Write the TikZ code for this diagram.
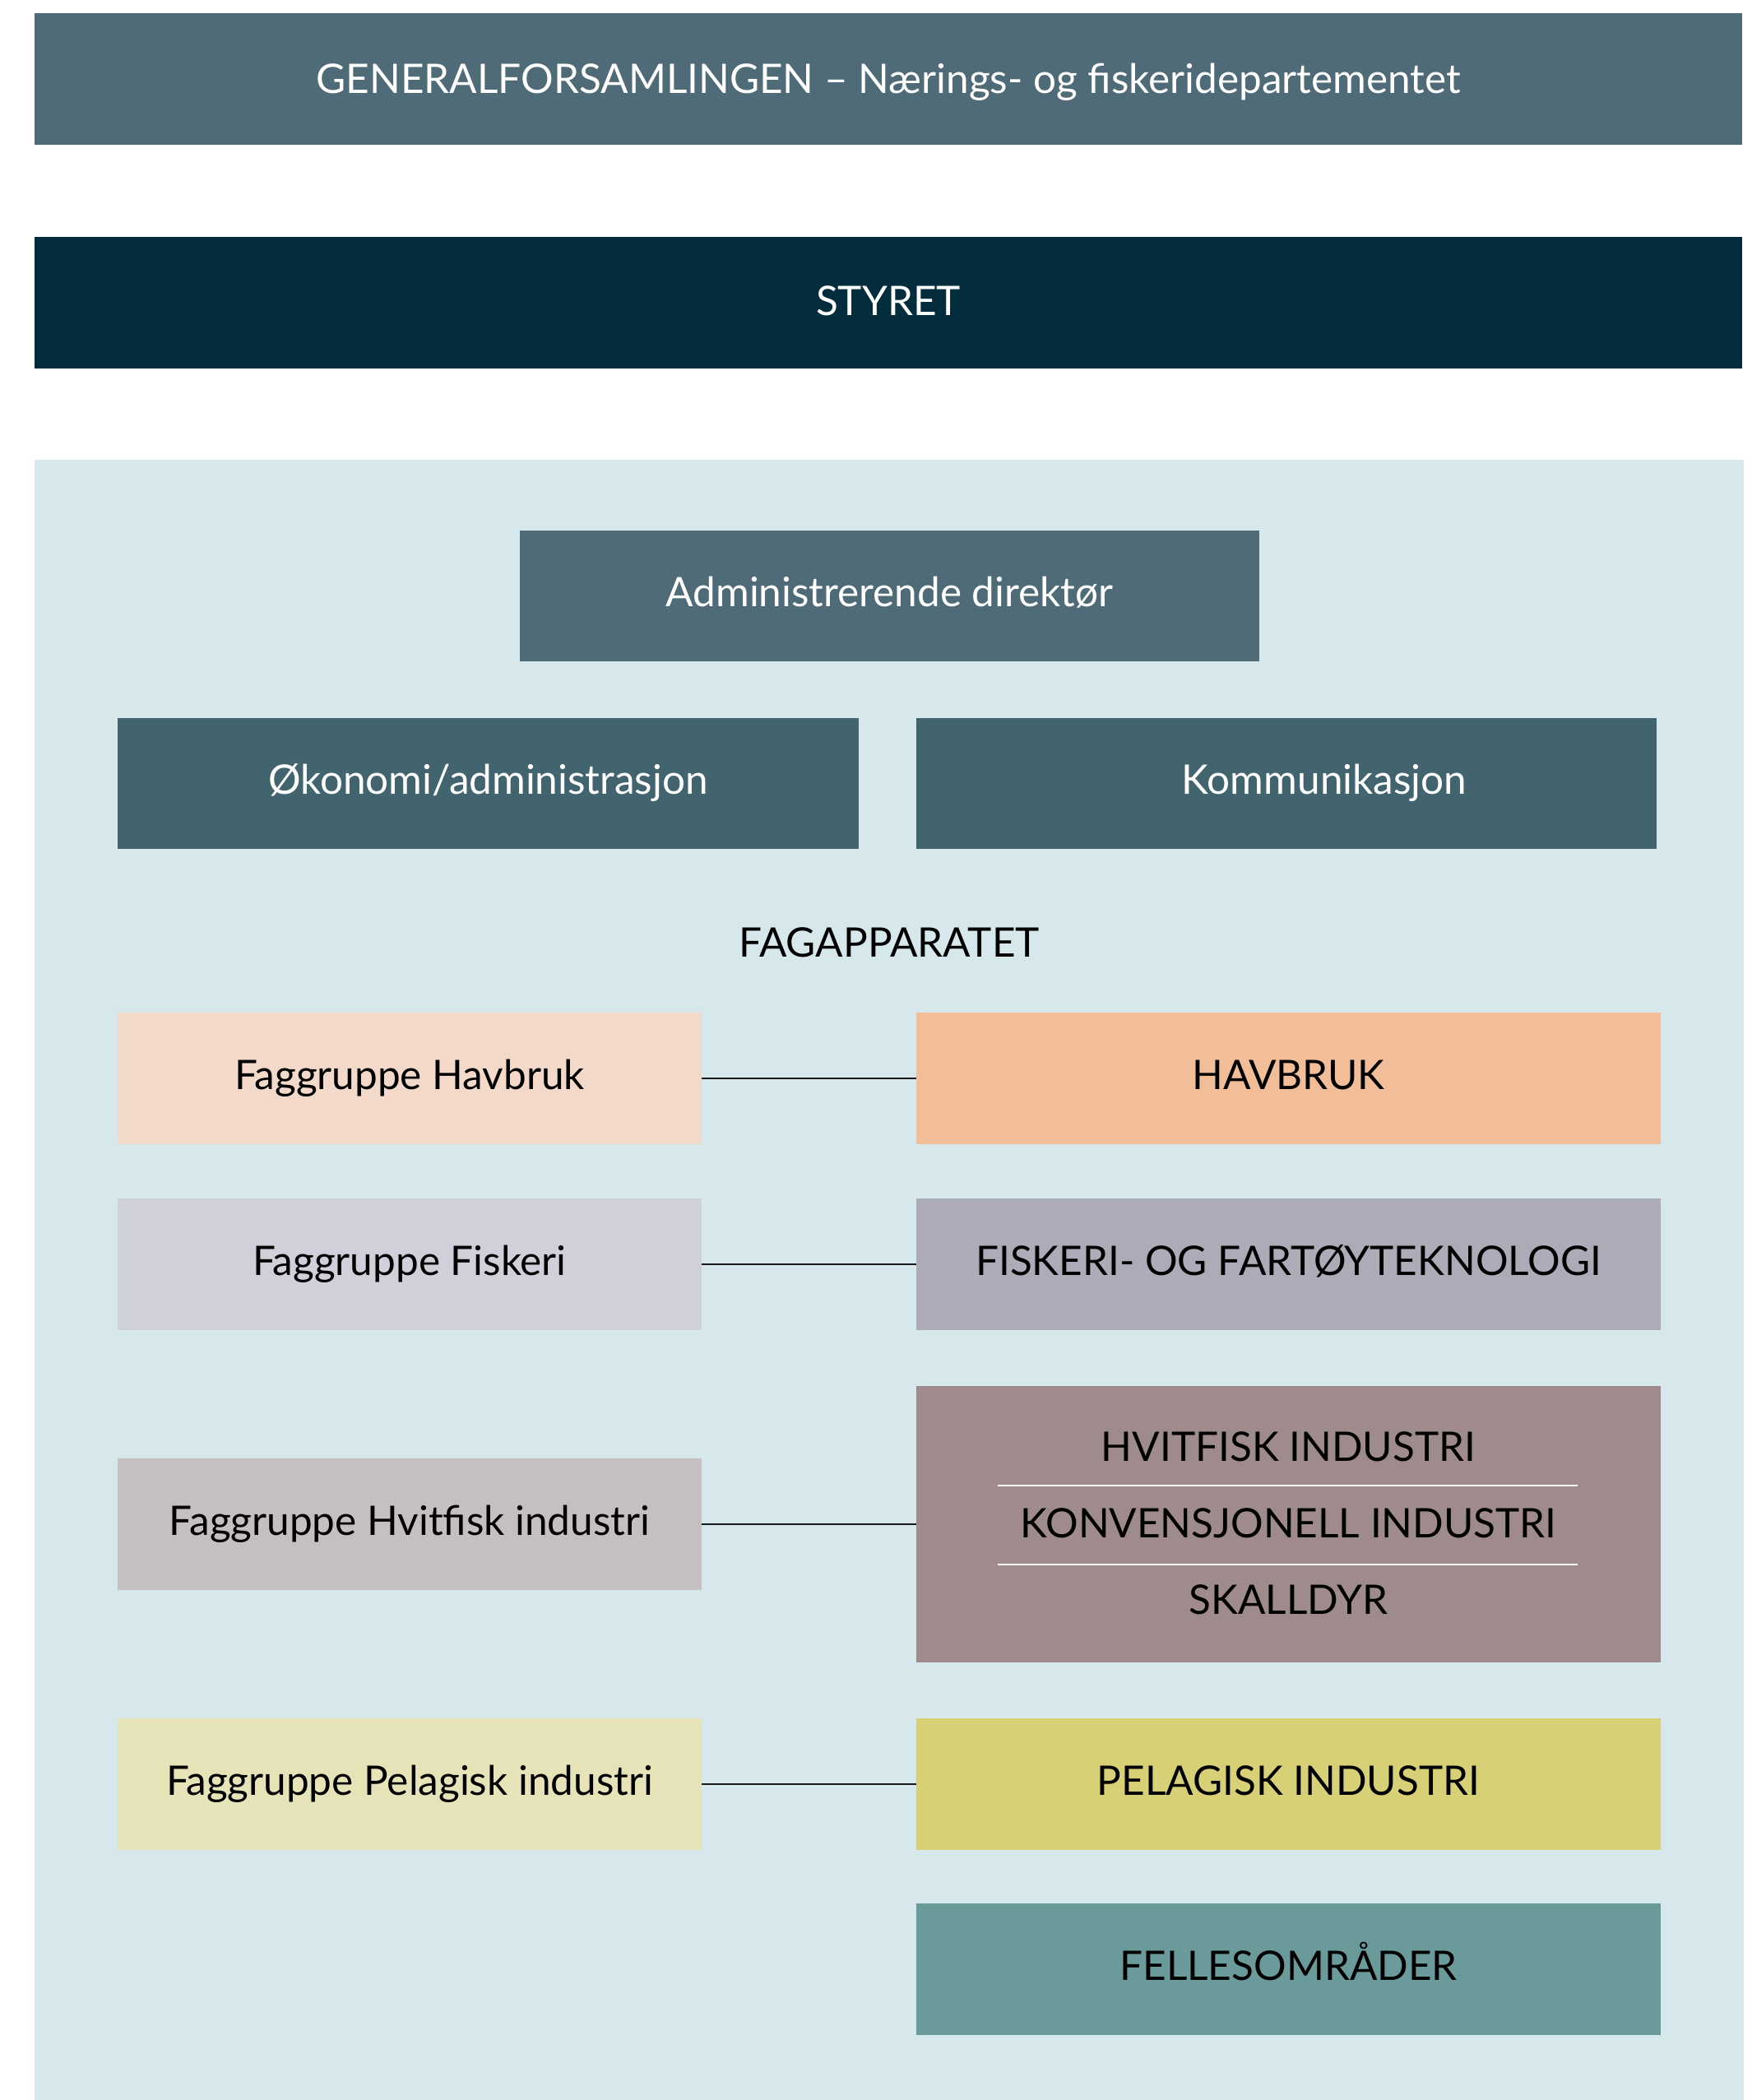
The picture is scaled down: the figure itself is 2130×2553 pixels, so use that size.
\documentclass[tikz,border=0pt]{standalone}
\usepackage{fontspec}
\setmainfont{Lato}
\definecolor{topc}{HTML}{4E6B77}
\definecolor{styc}{HTML}{032C3D}
\definecolor{bgc}{HTML}{D7E8ED}
\definecolor{adc}{HTML}{4E6B77}
\definecolor{okc}{HTML}{41646F}
\definecolor{fhl}{HTML}{F3D9C9}
\definecolor{fhr}{HTML}{F2BE99}
\definecolor{ffl}{HTML}{D0D0DA}
\definecolor{ffr}{HTML}{ADABB7}
\definecolor{fvl}{HTML}{C6BFC2}
\definecolor{fvr}{HTML}{A08B8C}
\definecolor{fpl}{HTML}{E6E3B9}
\definecolor{fpr}{HTML}{D8D077}
\definecolor{fel}{HTML}{6A9B9A}
\begin{document}
\begin{tikzpicture}[x=1pt,y=-1pt,
  box/.style={rectangle,inner sep=0pt,outer sep=0pt,draw=none,
    text height=35pt,text depth=9pt,
    font=\fontsize{49.5}{58}\selectfont},
  lbl/.style={inner sep=0pt,outer sep=0pt,text height=35pt,text depth=0pt,
    font=\fontsize{49.5}{58}\selectfont},
  conn/.style={draw=black!90,line width=2pt},
  sep/.style={draw=white,line width=1.6pt}]
\fill[white] (0,0) rectangle (2130,2553);
\useasboundingbox (0,0) rectangle (2130,2553);
% light background
\fill[bgc] (42,559) rectangle (2120,2553);
% top bars
\node[box,text depth=0pt,fill=topc,text=white,minimum width=2076pt,minimum height=160pt] (ga) at (1080,96) {GENERALFORSAMLINGEN – Nærings- og fiskeridepartementet};
\node[box,text depth=4pt,fill=styc,text=white,minimum width=2076pt,minimum height=160pt] (sty) at (1080,368) {STYRET};
% admin
\node[box,fill=adc,text=white,minimum width=899pt,minimum height=159pt] (adm) at (1081.5,724.5) {Administrerende direktør};
\node[box,fill=okc,text=white,minimum width=901pt,minimum height=159pt] (oko) at (593.5,952.5) {Økonomi/administrasjon};
\node[box,fill=okc,minimum width=900pt,minimum height=159pt] (kom) at (1564,952.5) {};
\node[box,text=white] (komt) at (1610,952.5) {Kommunikasjon};
% fagapparatet
\node[lbl] (fag) at (1081,1146) {FAGAPPARATET};
% left column
\node[box,fill=fhl,minimum width=710pt,minimum height=160pt] (lh) at (498,1311) {Faggruppe Havbruk};
\node[box,fill=ffl,minimum width=710pt,minimum height=160pt] (lf) at (498,1537) {Faggruppe Fiskeri};
\node[box,fill=fvl,minimum width=710pt,minimum height=160pt] (lv) at (498,1853) {Faggruppe Hvitfisk industri};
\node[box,fill=fpl,minimum width=710pt,minimum height=160pt] (lp) at (498,2169) {Faggruppe Pelagisk industri};
% right column
\node[box,fill=fhr,minimum width=905pt,minimum height=160pt] (rh) at (1566.5,1311) {HAVBRUK};
\node[box,fill=ffr,minimum width=905pt,minimum height=160pt] (rf) at (1566.5,1537) {FISKERI- OG FARTØYTEKNOLOGI};
\node[box,fill=fvr,minimum width=905pt,minimum height=336pt] (rv) at (1566.5,1853) {};
\node[box,fill=fpr,minimum width=905pt,minimum height=160pt] (rp) at (1566.5,2169) {PELAGISK INDUSTRI};
\node[box,fill=fel,minimum width=905pt,minimum height=160pt] (rc) at (1566.5,2394) {FELLESOMRÅDER};
% inside hvitfisk box
\node[lbl] (rv1) at (1566.5,1759) {HVITFISK INDUSTRI};
\node[lbl] (rv2) at (1566.5,1852) {KONVENSJONELL INDUSTRI};
\node[lbl] (rv3) at (1566.5,1945) {SKALLDYR};
\coordinate (s1a) at (1213,1806);
\coordinate (s1b) at (1918,1806);
\coordinate (s2a) at (1213,1902);
\coordinate (s2b) at (1918,1902);
\draw[sep] (s1a) -- (s1b);
\draw[sep] (s2a) -- (s2b);
% connectors
\draw[conn] (lh.east) -- (rh.west);
\draw[conn] (lf.east) -- (rf.west);
\draw[conn] (lv.east) -- (rv.west);
\draw[conn] (lp.east) -- (rp.west);
\end{tikzpicture}
\end{document}
